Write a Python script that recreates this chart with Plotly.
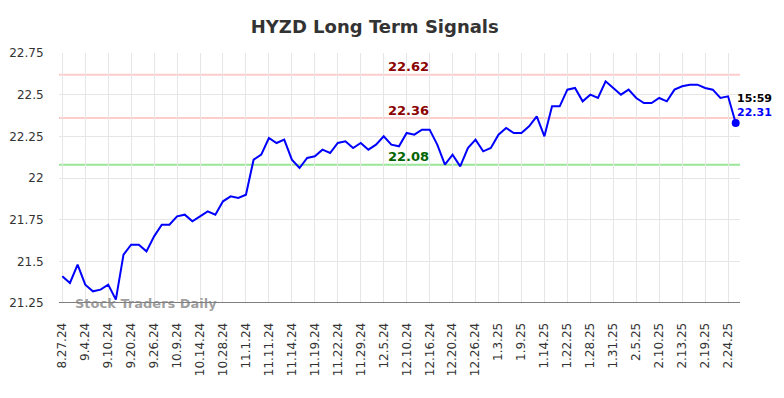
import plotly.graph_objects as go

tick_labels = ["8.27.24", "9.4.24", "9.10.24", "9.20.24", "9.26.24", "10.9.24", "10.14.24",
               "10.28.24", "11.1.24", "11.11.24", "11.14.24", "11.19.24", "11.22.24", "11.29.24",
               "12.5.24", "12.10.24", "12.16.24", "12.20.24", "12.26.24", "1.3.25", "1.9.25",
               "1.14.25", "1.22.25", "1.28.25", "1.31.25", "2.5.25", "2.10.25", "2.13.25",
               "2.19.25", "2.24.25"]

prices = [21.41, 21.37, 21.48, 21.36, 21.32, 21.33, 21.36, 21.27, 21.54, 21.60,
          21.60, 21.56, 21.65, 21.72, 21.72, 21.77, 21.78, 21.74, 21.77, 21.80,
          21.78, 21.86, 21.89, 21.88, 21.90, 22.11, 22.14, 22.24, 22.21, 22.23,
          22.11, 22.06, 22.12, 22.13, 22.17, 22.15, 22.21, 22.22, 22.18, 22.21,
          22.17, 22.20, 22.25, 22.20, 22.19, 22.27, 22.26, 22.29, 22.29, 22.20,
          22.08, 22.14, 22.07, 22.18, 22.23, 22.16, 22.18, 22.26, 22.30, 22.27,
          22.27, 22.31, 22.37, 22.25, 22.43, 22.43, 22.53, 22.54, 22.46, 22.50,
          22.48, 22.58, 22.54, 22.50, 22.53, 22.48, 22.45, 22.45, 22.48, 22.46,
          22.53, 22.55, 22.56, 22.56, 22.54, 22.53, 22.48, 22.49, 22.33]

tick_step = 3
resistance_levels = [22.62, 22.36]
support_levels = [22.08]
last_time = "15:59"
last_label = "22.31"
y_ticks = [21.25, 21.5, 21.75, 22, 22.25, 22.5, 22.75]
y_tick_text = ["21.25", "21.5", "21.75", "22", "22.25", "22.5", "22.75"]

x = list(range(len(prices)))
tick_vals = [i * tick_step for i in range(len(tick_labels))]

fig = go.Figure()
fig.add_trace(go.Scatter(x=x, y=prices, mode="lines",
                         line=dict(color="#0000ff", width=2), hoverinfo="skip"))
fig.add_trace(go.Scatter(x=[x[-1]], y=[prices[-1]], mode="markers",
                         marker=dict(color="#0000ff", size=8), hoverinfo="skip"))

label_x = 45.3
for lvl in resistance_levels:
    fig.add_hline(y=lvl, line=dict(color="#ffcccc", width=2), layer="below")
    fig.add_annotation(x=label_x, y=lvl, text="<b>%.2f</b>" % lvl, showarrow=False,
                       yshift=8, font=dict(color="#8b0000", size=13))
for lvl in support_levels:
    fig.add_hline(y=lvl, line=dict(color="#99e699", width=2), layer="below")
    fig.add_annotation(x=label_x, y=lvl, text="<b>%.2f</b>" % lvl, showarrow=False,
                       yshift=8, font=dict(color="#006400", size=13))

fig.add_annotation(x=x[-1], y=prices[-1], text="<b>%s</b>" % last_time, showarrow=False,
                   xanchor="left", xshift=-1, yshift=25, font=dict(color="#000000", size=11))
fig.add_annotation(x=x[-1], y=prices[-1], text="<b>%s</b>" % last_label, showarrow=False,
                   xanchor="left", xshift=-1, yshift=11, font=dict(color="#0000ff", size=11))

fig.add_annotation(xref="paper", yref="paper", x=0.02, y=0.0, text="<b>Stock Traders Daily</b>",
                   showarrow=False, xanchor="left", yanchor="middle",
                   font=dict(color="rgba(128,128,128,0.75)", size=13))

fig.update_layout(
    width=784, height=398,
    margin=dict(l=59, r=44, t=53, b=95),
    paper_bgcolor="white", plot_bgcolor="white",
    showlegend=False,
    font=dict(family="DejaVu Sans", color="#333333"),
    title=dict(text="<b>HYZD Long Term Signals</b>", x=0.478, xanchor="center", y=0.933,
               yanchor="middle", font=dict(size=18, color="#333333")),
    xaxis=dict(range=[-0.43, len(prices) - 0.44], tickvals=tick_vals, ticktext=tick_labels,
               tickangle=-90, showgrid=True, gridcolor="#e6e6e6", gridwidth=1,
               zeroline=False, showline=False, ticks="outside", ticklen=14,
               tickcolor="rgba(0,0,0,0)", automargin=False,
               tickfont=dict(size=12, color="#333333")),
    yaxis=dict(range=[21.25, 22.75], tickvals=y_ticks, ticktext=y_tick_text,
               showgrid=True, gridcolor="#e6e6e6", gridwidth=1, zeroline=False,
               showline=False, ticks="outside", ticklen=12, tickcolor="rgba(0,0,0,0)",
               automargin=False, tickfont=dict(size=12, color="#333333")),
)
fig.add_hline(y=21.25, line=dict(color="#555555", width=1.5))

fig.write_html("out.html")
